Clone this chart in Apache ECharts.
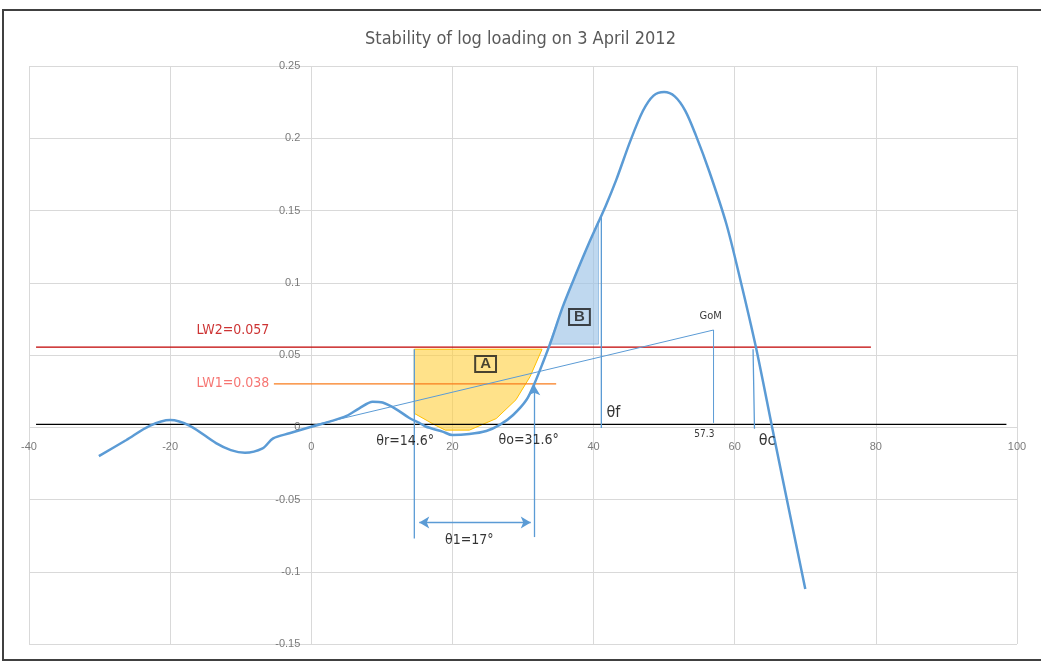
<!DOCTYPE html>
<html>
<head>
<meta charset="utf-8">
<script src="https://cdn.jsdelivr.net/npm/echarts@6/dist/echarts.min.js"></script>
<style>
  html, body { margin: 0; padding: 0; background: #fff; }
  #chart { width: 1041px; height: 664px; }
</style>
</head>
<body>
<div id="chart"></div>
<script>
// righting curve (heel angle, lever)
const curveX = [-30.1, -26.2, -22.9, -20, -17.2, -13.5, -11.4, -9.4, -6.9, -5.4, -3.1, 0, 2.6, 5.0, 6.8, 8.7, 10.1, 12.0, 13.9, 15.3, 16.2, 18.6, 20, 22.4, 24.8, 26.7, 28.6, 30.5, 31.6, 32.8, 34, 35.6, 37.5, 39.4, 41.7, 43.2, 45.2, 47, 48.5, 50, 51.5, 53, 54.5, 56.4, 58.8, 60.7, 63, 65.3, 66.8, 70];
const curveY = [-0.020, -0.0088, 0.001, 0.005, 0.001, -0.011, -0.0158, -0.0176, -0.0146, -0.0077, -0.0042, 0.0003, 0.0039, 0.0078, 0.0131, 0.0177, 0.0171, 0.0126, 0.0064, 0.0031, 0.0005, -0.003, -0.0054, -0.0047, -0.0026, 0.0016, 0.0085, 0.019, 0.030, 0.0445, 0.060, 0.083, 0.106, 0.128, 0.153, 0.171, 0.198, 0.219, 0.2295, 0.232, 0.229, 0.219, 0.202, 0.177, 0.141, 0.104, 0.0555, 0, -0.036, -0.112];

// area A and area B outlines
const areaAX = [14.6, 14.6, 17.5, 19, 22.4, 26.2, 29, 31, 32.7];
const areaAY = [0.054, 0.0096, 0.0016, -0.002, -0.002, 0.006, 0.019, 0.035, 0.054];
const areaBX = [33.7, 35.6, 37.5, 39.4, 40.7, 40.7];
const areaBY = [0.0575, 0.083, 0.106, 0.128, 0.143, 0.0575];

// reference lines
const lw2 = 0.0555;
const lw1 = 0.030;
const zeroLine = 0.002;
const gom = [57, 0.0673];

// axes: min, max, step and the tick labels drawn where the axes cross
const xTicks = [-40, 100, 20];
const yTicks = [-0.15, 0.25, 0.05];
const xTickLabels = ['-40', '-20', '0', '20', '40', '60', '80', '100'];
const yTickLabels = ['-0.15', '-0.1', '-0.05', '0', '0.05', '0.1', '0.15', '0.2', '0.25'];

const labels = [
  {name: 'LW2=0.057', value: [-11.1, 0.0673], color: '#c00000', size: 14},
  {name: 'LW1=0.038', value: [-11.1, 0.0306], color: '#f4534f', size: 14},
  {name: 'GoM', value: [56.6, 0.077], color: '#000', size: 11},
  {name: '57.3', value: [55.7, -0.0047], color: '#000', size: 10},
  {name: 'θf', value: [42.8, 0.0099], color: '#000', size: 16},
  {name: 'θc', value: [64.6, -0.0095], color: '#000', size: 16},
  {name: 'θr=14.6°', value: [13.3, -0.0095], color: '#000', size: 14},
  {name: 'θo=31.6°', value: [30.8, -0.0088], color: '#000', size: 14},
  {name: 'θ1=17°', value: [22.4, -0.078], color: '#000', size: 14}
];
const boxes = [
  {name: 'A', value: [24.7, 0.0438]},
  {name: 'B', value: [38.0, 0.0763]}
];

const narrow = "'Liberation Sans Narrow', 'DejaVu Sans Condensed', sans-serif";
const tickFont = {color: '#595959', fontSize: 11, fontFamily: 'Liberation Sans, sans-serif'};
const zip = (xs, ys) => xs.map((x, i) => [x, ys[i]]);

const chart = echarts.init(document.getElementById('chart'));
const option = {
  animation: false,
  title: {
    text: 'Stability of log loading on 3 April 2012',
    left: 'center',
    top: 25,
    textStyle: {color: '#595959', fontSize: 18, fontWeight: 'normal', fontFamily: narrow}
  },
  graphic: [{
    type: 'rect',
    shape: {x: 3, y: 10, width: 1060, height: 650},
    style: {fill: 'none', stroke: '#404040', lineWidth: 2},
    silent: true
  }],
  grid: {left: 29, right: 24, top: 66, bottom: 20, containLabel: false, outerBoundsMode: 'none'},
  xAxis: {
    type: 'value',
    min: xTicks[0], max: xTicks[1], interval: xTicks[2],
    axisLine: {show: false},
    axisTick: {show: false},
    axisLabel: {show: false},
    splitLine: {lineStyle: {color: '#d9d9d9'}}
  },
  yAxis: {
    type: 'value',
    min: yTicks[0], max: yTicks[1], interval: yTicks[2],
    axisLine: {show: false},
    axisTick: {show: false},
    axisLabel: {show: false},
    splitLine: {lineStyle: {color: '#d9d9d9'}}
  },
  series: [
    {
      type: 'custom',
      renderItem: function (params, api) {
        if (params.dataIndex !== 0) return;
        return {type: 'polygon', shape: {points: zip(areaAX, areaAY).map(p => api.coord(p))},
          style: {fill: 'rgba(255,206,60,0.6)', stroke: '#ffc000', lineWidth: 1}};
      },
      data: [[areaAX[0], areaAY[0]]],
      silent: true, z: 1
    },
    {
      type: 'custom',
      renderItem: function (params, api) {
        if (params.dataIndex !== 0) return;
        return {type: 'polygon', shape: {points: zip(areaBX, areaBY).map(p => api.coord(p))},
          style: {fill: 'rgba(157,195,230,0.65)', stroke: 'rgba(91,155,213,0.5)', lineWidth: 1}};
      },
      data: [[areaBX[0], areaBY[0]]],
      silent: true, z: 1
    },
    {
      name: 'zero', type: 'line', symbol: 'none', z: 2,
      lineStyle: {color: '#000', width: 1.2},
      data: [[-39, zeroLine], [98.5, zeroLine]]
    },
    {
      name: 'LW2', type: 'line', symbol: 'none', z: 2,
      lineStyle: {color: '#c00000', width: 1.2},
      data: [[-39, lw2], [79.3, lw2]]
    },
    {
      name: 'LW1', type: 'line', symbol: 'none', z: 2,
      lineStyle: {color: '#f97d1c', width: 1.2},
      data: [[-5.3, lw1], [34.7, lw1]]
    },
    {
      name: 'GoM', type: 'line', symbol: 'none', z: 2,
      lineStyle: {color: '#5b9bd5', width: 1},
      data: [[0, 0.001], gom, [gom[0], 0.003]]
    },
    {
      name: 'verticals', type: 'line', symbol: 'none', z: 2,
      lineStyle: {color: '#5b9bd5', width: 1.3},
      data: [[41.1, 0.146], [41.1, -0.0005], null, [62.6, 0.054], [62.8, -0.001], null,
             [14.6, 0.054], [14.6, -0.077]],
      connectNulls: false,
      markLine: {
        silent: true,
        symbolSize: [9, 10],
        lineStyle: {color: '#5b9bd5', width: 1.3, type: 'solid'},
        label: {show: false},
        data: [
          [{coord: [31.6, -0.076], symbol: 'none'}, {coord: [31.6, 0.029], symbol: 'arrow'}],
          [{coord: [15.3, -0.066], symbol: 'arrow'}, {coord: [31.1, -0.066], symbol: 'arrow'}]
        ]
      }
    },
    {
      name: 'GZ', type: 'line', symbol: 'none', smooth: 0.3, z: 3,
      lineStyle: {color: '#5b9bd5', width: 2.5},
      data: zip(curveX, curveY)
    },
    {
      // x tick labels along y = 0
      type: 'scatter', symbolSize: 0, z: 4, silent: true,
      data: xTickLabels.map(t => ({name: t, value: [Number(t), 0]})),
      label: Object.assign({show: true, position: 'bottom', distance: 14, formatter: '{b}'}, tickFont)
    },
    {
      // y tick labels along x = 0
      type: 'scatter', symbolSize: 0, z: 4, silent: true,
      data: yTickLabels.map(t => ({name: t, value: [0, Number(t)]})),
      label: Object.assign({show: true, position: 'left', distance: 11, formatter: '{b}'}, tickFont)
    },
    {
      type: 'scatter', symbolSize: 0, z: 5, silent: true,
      data: labels.map(l => ({
        name: l.name, value: l.value,
        label: {show: true, position: 'inside', formatter: '{b}', color: l.color, fontSize: l.size, fontFamily: narrow}
      }))
    },
    {
      type: 'scatter', symbolSize: 0, z: 5, silent: true,
      data: boxes.map(b => ({
        name: b.name, value: b.value,
        label: {show: true, position: 'inside', formatter: '{b}', color: '#1a1a1a', fontSize: 15,
          fontWeight: 'bold', fontFamily: 'Liberation Sans, sans-serif',
          borderColor: '#1a1a1a', borderWidth: 1, padding: [1, 5, 0, 5], backgroundColor: 'rgba(255,255,255,0)'}
      }))
    }
  ]
};
chart.setOption(option);
window.onresize = function () { chart.resize() };
</script>
</body>
</html>
